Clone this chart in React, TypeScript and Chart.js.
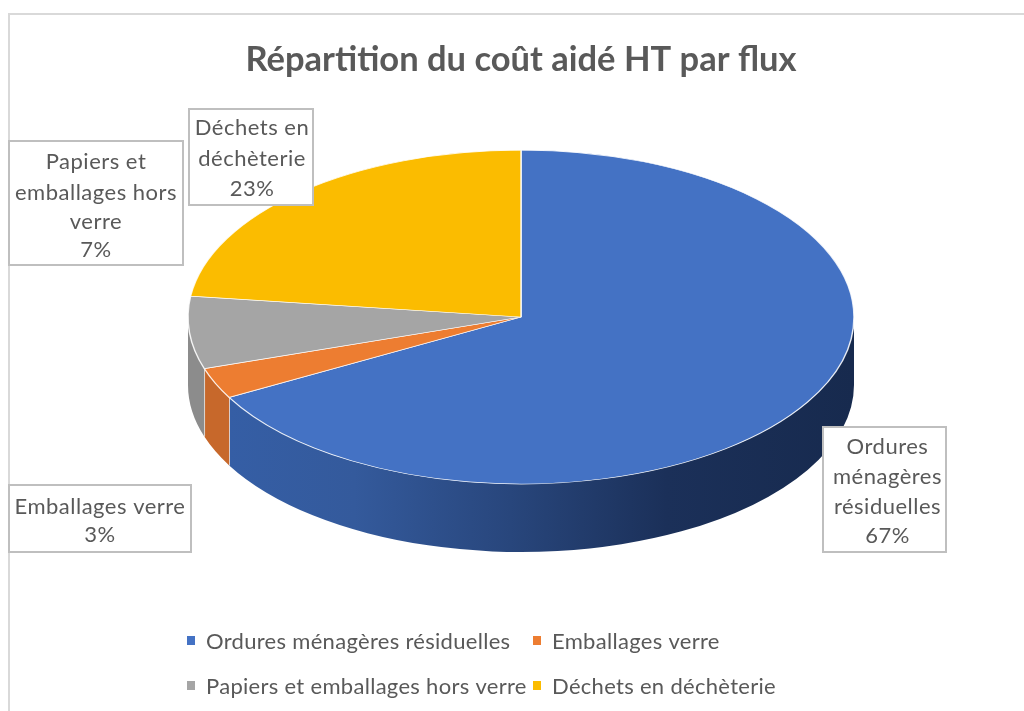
import React, { useEffect, useRef } from "react";
import { Chart, registerables } from "chart.js";

Chart.register(...registerables);

const titleText = "Répartition du coût aidé HT par flux";
const categories = ["Ordures ménagères résiduelles", "Emballages verre", "Papiers et emballages hors verre", "Déchets en déchèterie"];
const shares = [67, 3, 7, 23];
const topColors = ["#4472C4", "#ED7D31", "#A5A5A5", "#FBBC00"];
const sideColors = ["#2F5597", "#C7682B", "#8C8C8C", "#BF9000"];
const labelLines = [
  ["Ordures", "ménagères", "résiduelles"],
  ["Emballages verre"],
  ["Papiers et", "emballages hors", "verre"],
  ["Déchets en", "déchèterie"],
];

const FONT = "Lato, Carlito, 'Open Sans', sans-serif";
const TEXT = "#595959";
const PIE = { radius: 333, squash: 167 / 333, centerY: 317, depth: 68 };
const LABEL_BOXES = [
  { x: 823, y: 427, w: 123, h: 125, textDx: 3, lineY: [447, 477, 507, 536] },
  { x: 9, y: 485, w: 182, h: 67, textDx: 0, lineY: [507, 535] },
  { x: 9, y: 141, w: 174, h: 124, textDx: 0, lineY: [162, 193, 222, 250] },
  { x: 189, y: 109, w: 124, h: 96, textDx: 1, lineY: [128, 159, 189] },
];
const LEGEND_SLOTS = [
  { x: 187, y: 641 },
  { x: 533, y: 641 },
  { x: 187, y: 686 },
  { x: 533, y: 686 },
];

const pie3d = {
  id: "pie3d",
  beforeDraw(chart: any) {
    const { ctx, width, height } = chart;
    ctx.save();
    ctx.strokeStyle = "#D9D9D9";
    ctx.lineWidth = 2;
    ctx.beginPath();
    ctx.moveTo(9, height);
    ctx.lineTo(9, 14);
    ctx.lineTo(width, 14);
    ctx.stroke();
    ctx.restore();
  },
  beforeDatasetsDraw(chart: any) {
    const { ctx } = chart;
    const arcs = chart.getDatasetMeta(0).data;
    const first = arcs[0];
    const cx = first.x;
    const rx = first.outerRadius;
    const ry = rx * PIE.squash;
    const cy = PIE.centerY;
    ctx.save();
    arcs.forEach((arc: any, i: number) => {
      let a = arc.startAngle;
      let b = arc.endAngle;
      if (a < 0 && b > 0) a = 0;
      else if (a < 0) return;
      if (a >= Math.PI) return;
      b = Math.min(b, Math.PI);
      ctx.beginPath();
      ctx.ellipse(cx, cy, rx, ry, 0, a, b, false);
      ctx.ellipse(cx, cy + PIE.depth, rx, ry, 0, b, a, true);
      ctx.closePath();
      if (i === 0) {
        const g = ctx.createLinearGradient(cx + rx * Math.cos(b), 0, cx + rx, 0);
        g.addColorStop(0, "#355EA5");
        g.addColorStop(0.2, "#345A9C");
        g.addColorStop(0.45, "#28467C");
        g.addColorStop(0.7, "#1B3059");
        g.addColorStop(1, "#172A4E");
        ctx.fillStyle = g;
      } else {
        ctx.fillStyle = sideColors[i];
      }
      ctx.fill();
      if (b < Math.PI) {
        const px = cx + rx * Math.cos(b);
        const py = cy + ry * Math.sin(b);
        ctx.strokeStyle = "rgba(255,255,255,0.85)";
        ctx.lineWidth = 1.5;
        ctx.beginPath();
        ctx.moveTo(px, py);
        ctx.lineTo(px, py + PIE.depth);
        ctx.stroke();
      }
    });
    ctx.restore();
    ctx.save();
    ctx.translate(cx, cy);
    ctx.scale(1, PIE.squash);
    ctx.translate(-cx, -first.y);
  },
  afterDatasetsDraw(chart: any) {
    chart.ctx.restore();
  },
  afterDraw(chart: any) {
    const { ctx } = chart;
    ctx.save();
    ctx.textBaseline = "middle";
    // data labels
    ctx.font = `22px ${FONT}`;
    ctx.letterSpacing = "0.5px";
    categories.forEach((_, i) => {
      const box = LABEL_BOXES[i];
      ctx.fillStyle = "#FFFFFF";
      ctx.strokeStyle = "#BFBFBF";
      ctx.lineWidth = 2;
      ctx.fillRect(box.x, box.y, box.w, box.h);
      ctx.strokeRect(box.x, box.y, box.w, box.h);
      ctx.fillStyle = TEXT;
      ctx.textAlign = "center";
      [...labelLines[i], `${shares[i]}%`].forEach((line, k) => {
        ctx.fillText(line, box.x + box.w / 2 + box.textDx, box.lineY[k]);
      });
    });
    // legend
    ctx.textAlign = "left";
    ctx.letterSpacing = "0.3px";
    categories.forEach((name, i) => {
      const slot = LEGEND_SLOTS[i];
      ctx.fillStyle = topColors[i];
      ctx.fillRect(slot.x, slot.y - 5, 8, 9);
      ctx.fillStyle = TEXT;
      ctx.fillText(name, slot.x + 19, slot.y + 1);
    });
    ctx.restore();
  },
};

export default function App() {
  const ref = useRef<HTMLCanvasElement>(null);
  useEffect(() => {
    const chart = new Chart(ref.current as HTMLCanvasElement, {
      type: "pie",
      data: {
        labels: categories,
        datasets: [
          {
            data: shares,
            backgroundColor: topColors,
            borderColor: "rgba(255,255,255,0.85)",
            borderWidth: 1.5,
            clip: false,
          } as any,
        ],
      },
      options: {
        responsive: false,
        animation: false,
        radius: PIE.radius,
        layout: { padding: { left: 18, top: 39 } },
        plugins: {
          legend: { display: false },
          tooltip: { enabled: false },
          title: {
            display: true,
            text: titleText,
            color: TEXT,
            font: { family: FONT, size: 34.5, weight: "bold" },
            padding: { top: 0, bottom: 0 },
          },
        },
      } as any,
      plugins: [pie3d as any],
    });
    return () => chart.destroy();
  }, []);
  return (
    <div style={{ position: "fixed", inset: 0, overflow: "hidden", background: "#fff" }}>
      <canvas ref={ref} width={1024} height={711} style={{ display: "block" }} />
    </div>
  );
}
